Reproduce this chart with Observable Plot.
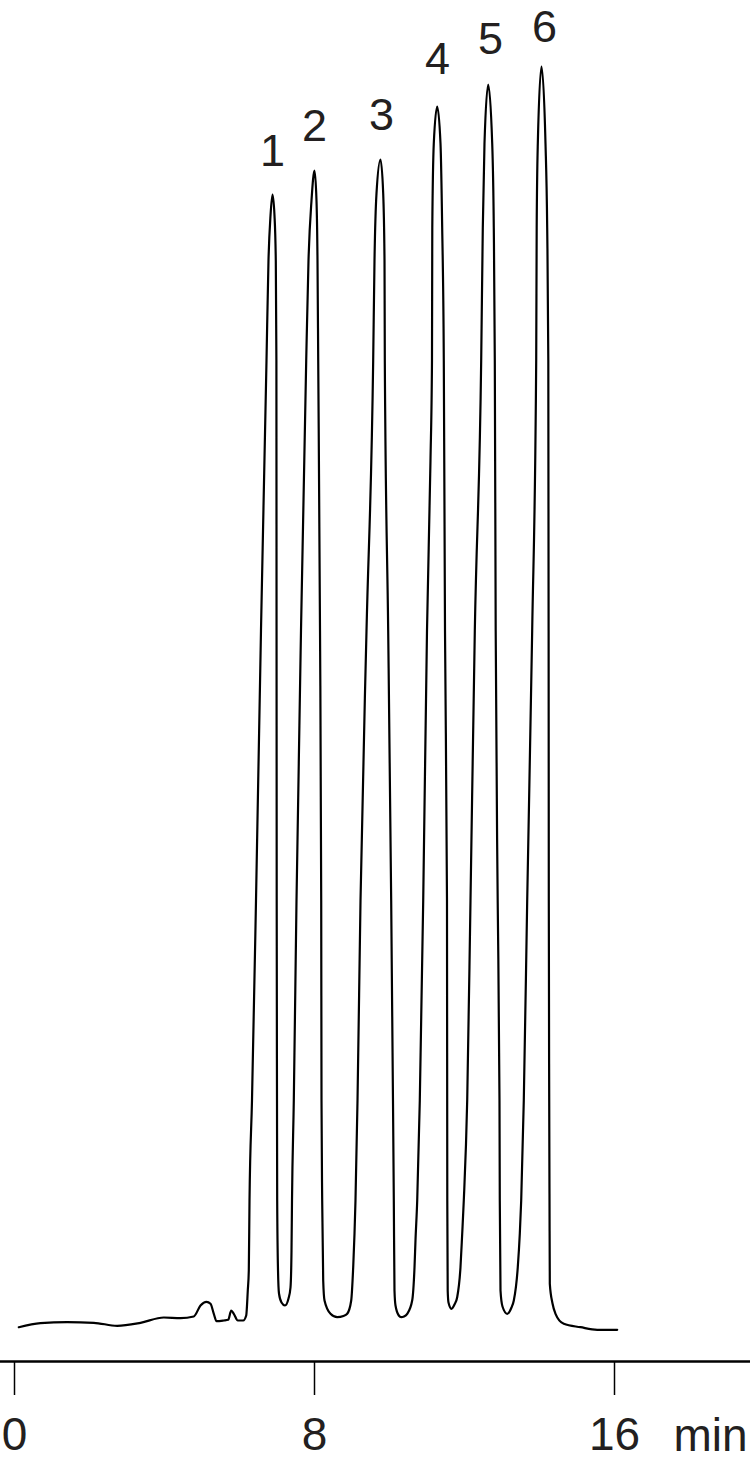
<!DOCTYPE html>
<html>
<head>
<meta charset="utf-8">
<script src="https://cdn.jsdelivr.net/npm/d3@7"></script>
<script src="https://cdn.jsdelivr.net/npm/@observablehq/plot@0.6"></script>
<style>
  html, body { margin: 0; padding: 0; background: #fff; }
  #chart svg { display: block; }
</style>
</head>
<body>
<div id="chart"></div>
<script>
// Retention time (min) of the detector trace
const times = [
  0.115, 0.693, 1.405, 2.115, 2.739, 3.360, 3.981, 4.427, 4.781, 4.960,
  5.120, 5.227, 5.315, 5.387, 5.581, 5.699, 5.779, 5.848, 5.955, 6.099,
  6.179, 6.221, 6.248,
  6.267, 6.333, 6.440, 6.573, 6.720, 6.773, 6.827, 6.880, 6.933, 6.968,
  6.984, 6.988, 6.992, 7.000, 7.005, 7.027, 7.053, 7.120, 7.213, 7.307,
  7.360, 7.387, 7.400, 7.448, 7.520, 7.640, 7.779, 7.840, 7.920, 8.000,
  8.053, 8.080, 8.099, 8.147, 8.179, 8.187, 8.205, 8.232, 8.267, 8.427,
  8.605, 8.773, 8.872, 8.979, 9.032, 9.067, 9.093, 9.147, 9.227, 9.387,
  9.565, 9.600, 9.653, 9.760, 9.832, 9.867, 9.875, 9.965, 10.045, 10.093,
  10.115, 10.133, 10.160, 10.248, 10.312, 10.387, 10.472, 10.605, 10.667, 10.693,
  10.739, 10.808, 10.899, 11.000, 11.093, 11.133, 11.141, 11.181, 11.272,
  11.360, 11.405,
  11.448, 11.480, 11.533, 11.541, 11.552, 11.573, 11.653, 11.733, 11.805, 11.893,
  11.939, 11.981, 12.072, 12.160, 12.275, 12.445, 12.488, 12.533, 12.632, 12.739,
  12.781, 12.808, 12.832, 12.885, 12.933, 12.941, 12.960, 13.013, 13.139, 13.253,
  13.315, 13.421, 13.475, 13.512, 13.581, 13.672, 13.805, 13.912, 13.925, 13.955,
  14.053, 14.160, 14.205, 14.235, 14.243, 14.248, 14.259, 14.267, 14.275, 14.347,
  14.427, 14.648, 15.093, 15.539, 16.072
];
// Detector signal (arbitrary units) at those times
const signal = [
  0.33, 0.73, 0.83, 0.77, 0.47, 0.77, 1.30, 1.23, 1.40, 2.50,
  2.87, 2.67, 1.67, 0.93, 1.00, 1.07, 2.00, 1.67, 1.00, 1.00,
  1.50, 4.00, 6.00,
  13.0, 23.0, 43.0, 70.0, 97.0, 107.0, 111.5, 113.6, 111.5, 107.0,
  97.0, 70.0, 43.0, 23.0, 13.0, 6.0, 3.7, 2.8, 2.5, 3.2,
  4.3, 8.0, 13.0, 23.0, 43.0, 70.0, 97.0, 107.0, 113.0, 116.0,
  113.0, 107.0, 97.0, 70.0, 43.0, 23.0, 13.0, 5.0, 3.0, 1.67,
  1.33, 1.45, 1.67, 3.0, 6.33, 9.7, 13.0, 23.0, 43.0, 70.0,
  97.0, 107.0, 113.7, 117.1, 113.7, 107.0, 97.0, 70.0, 43.0, 23.0,
  13.0, 4.0, 2.5, 1.5, 1.33, 1.4, 1.67, 3.0, 6.33, 9.0,
  13.0, 23.0, 43.0, 70.0, 87.0, 97.0, 110.3, 118.7, 122.4,
  118.7, 110.3,
  97.0, 70.0, 43.0, 13.0, 4.0, 2.8, 2.17, 2.6, 3.33, 6.33,
  9.7, 13.0, 23.0, 43.0, 70.0, 97.0, 110.3, 118.7, 124.6, 118.7,
  110.3, 97.0, 70.0, 43.0, 23.0, 13.0, 4.0, 2.4, 1.67, 2.3,
  3.0, 6.33, 9.7, 13.0, 23.0, 43.0, 70.0, 97.0, 110.3, 118.7,
  126.4, 118.7, 110.3, 97.0, 70.0, 43.0, 23.0, 13.0, 4.67, 2.7,
  1.67, 0.67, 0.33, 0.07, 0.07
];
// Peak labels and where they sit
const peakLabels = ["1", "2", "3", "4", "5", "6"];
const labelTimes = [6.88, 8.0, 9.787, 11.28, 12.693, 14.133];
const labelHeights = [116.5, 119.0, 120.1, 125.7, 127.7, 128.9];
// Axis
const tickValues = [0, 8, 16];
const axisUnit = "min";

const trace = times.map((t, i) => ({t, v: signal[i]}));
const peaks = peakLabels.map((label, i) => ({label, t: labelTimes[i], v: labelHeights[i]}));

const chart = Plot.plot({
  width: 750,
  height: 1460,
  marginTop: 0,
  marginRight: 0,
  marginBottom: 99,
  marginLeft: 0,
  style: {fontFamily: "'Liberation Sans', Arial, Helvetica, sans-serif", color: "#231f20", background: "#fff", overflow: "visible"},
  x: {domain: [0, 16], range: [14, 614]},
  y: {domain: [0, 130], range: [1330, 30], axis: null},
  marks: [
    Plot.frame({anchor: "bottom", stroke: "#000", strokeWidth: 2.5}),
    Plot.axisX(tickValues, {
      anchor: "bottom",
      tickSize: 34,
      tickPadding: 22,
      fontSize: 46,
      stroke: "#000",
      strokeWidth: 1.5,
      tickFormat: d => String(d),
      label: axisUnit,
      labelAnchor: "right",
      labelArrow: "none",
      labelOffset: 89
    }),
    Plot.line(trace, {x: "t", y: "v", curve: "monotone-x", stroke: "#000", strokeWidth: 2.2}),
    Plot.text(peaks, {x: "t", y: "v", text: "label", fontSize: 45, lineAnchor: "bottom", fill: "#231f20"})
  ]
});
document.getElementById("chart").appendChild(chart);
</script>
</body>
</html>
